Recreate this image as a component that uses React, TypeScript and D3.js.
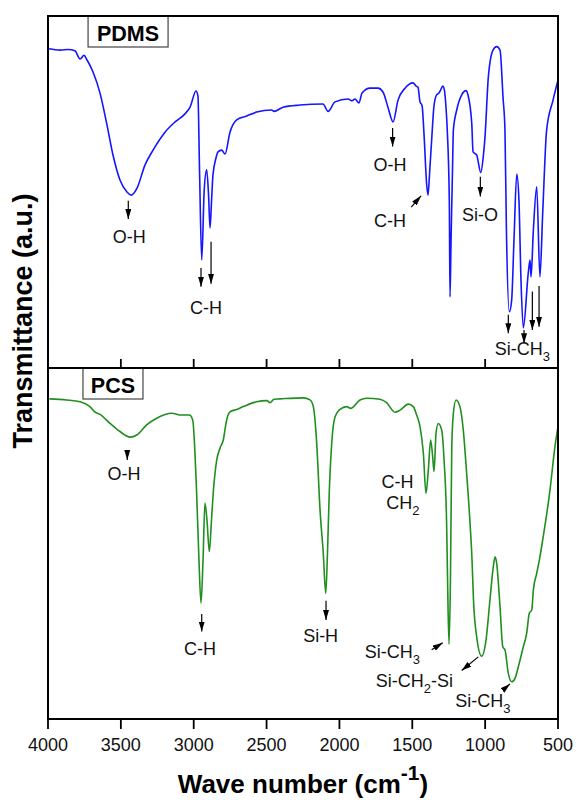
import React, { useMemo } from 'react';
import * as d3 from 'd3';

// wavenumber (cm-1), transmittance (a.u., 0-100 inside each panel)
const xTicks = [4000, 3500, 3000, 2500, 2000, 1500, 1000, 500];

const pdmsSpectrum: [number, number][] = [
  [3993, 90.7], [3918, 90.3], [3863, 90.5], [3815, 90.1], [3780, 87.8], [3753, 88.8], [3732, 87.5],
  [3691, 84.1], [3643, 78.1], [3595, 69.0], [3554, 60.5], [3506, 53.4], [3458, 50.0], [3430, 49.1],
  [3389, 51.1], [3334, 57.7], [3279, 61.9], [3197, 67.0], [3128, 69.9], [3060, 72.2], [3025, 74.1],
  [2984, 78.7], [2971, 77.3], [2960, 56.0], [2945, 30.7], [2928, 50.5], [2911, 56.3], [2898, 49.0],
  [2888, 39.8], [2877, 48.0], [2868, 54.8], [2848, 59.5], [2833, 61.4], [2808, 61.9], [2785, 60.8],
  [2751, 67.0], [2705, 70.5], [2636, 71.6], [2568, 72.7], [2465, 73.3], [2449, 72.9], [2387, 74.1],
  [2271, 74.7], [2113, 75.0], [2078, 72.9], [2030, 75.6], [1941, 76.4], [1914, 75.9], [1893, 76.4],
  [1866, 75.3], [1845, 78.1], [1790, 79.5], [1735, 79.5], [1701, 78.4], [1667, 74.1], [1632, 69.9],
  [1598, 76.1], [1550, 79.5], [1495, 81.0], [1474, 80.1], [1461, 79.8], [1447, 75.6], [1433, 74.6],
  [1420, 66.8], [1401, 52.0], [1392, 49.1], [1380, 56.3], [1367, 64.8], [1351, 74.5], [1333, 77.6],
  [1317, 78.1], [1305, 79.0], [1291, 80.1], [1280, 79.0], [1269, 74.3], [1260, 67.6], [1246, 47.7],
  [1241, 20.2], [1234, 36.4], [1224, 56.3], [1218, 67.6], [1195, 73.3], [1161, 77.6], [1131, 78.8],
  [1118, 77.6], [1092, 69.6], [1083, 61.4], [1058, 60.5], [1030, 55.5], [1013, 60.0], [1001, 65.6],
  [978, 82.7], [946, 90.3], [921, 91.3], [898, 90.3], [877, 76.7], [864, 67.6], [854, 39.2],
  [834, 16.0], [818, 19.3], [802, 36.4], [783, 55.1], [768, 47.7], [754, 25.0], [738, 11.4],
  [704, 27.0], [692, 30.7], [685, 25.9], [669, 39.2], [646, 51.5], [624, 25.9], [605, 44.0],
  [578, 67.6], [534, 76.1], [500, 81.8],
];

const pcsSpectrum: [number, number][] = [
  [3991, 91.2], [3872, 90.9], [3780, 90.4], [3712, 89.0], [3677, 87.4], [3643, 86.8], [3574, 84.2],
  [3506, 81.9], [3437, 80.3], [3391, 80.9], [3323, 83.8], [3254, 85.7], [3151, 87.1], [3082, 86.6],
  [3030, 86.6], [3007, 85.2], [2980, 64.4], [2964, 45.3], [2950, 33.0], [2936, 45.3], [2923, 61.5],
  [2909, 56.7], [2893, 47.7], [2878, 56.7], [2866, 64.4], [2842, 73.8], [2820, 77.1], [2797, 79.5],
  [2774, 85.2], [2751, 87.5], [2705, 88.2], [2660, 89.0], [2568, 90.4], [2499, 90.7], [2476, 90.1],
  [2449, 91.1], [2408, 91.2], [2248, 91.5], [2202, 90.9], [2179, 89.0], [2156, 78.6], [2133, 59.5],
  [2111, 47.3], [2094, 35.8], [2082, 47.3], [2070, 64.3], [2053, 78.5], [2030, 86.1], [1996, 88.2],
  [1950, 89.0], [1923, 88.5], [1859, 90.9], [1813, 91.4], [1722, 91.1], [1676, 90.1], [1619, 87.4],
  [1584, 88.0], [1527, 89.7], [1493, 89.0], [1470, 86.6], [1447, 83.3], [1424, 75.7], [1406, 64.3],
  [1390, 70.9], [1374, 79.5], [1360, 74.7], [1351, 70.5], [1337, 81.4], [1322, 84.2], [1298, 82.3],
  [1282, 73.8], [1264, 54.8], [1258, 40.0], [1248, 21.3], [1238, 40.0], [1229, 77.6], [1218, 87.1],
  [1200, 90.9], [1173, 89.0], [1150, 82.3], [1127, 70.0], [1104, 56.0], [1090, 45.3], [1080, 33.9],
  [1058, 23.4], [1024, 17.9], [994, 22.5], [967, 33.9], [944, 43.4], [932, 46.2], [921, 44.4],
  [898, 32.0], [879, 20.6], [864, 19.7], [841, 13.0], [818, 10.6], [795, 11.6], [766, 15.9],
  [738, 20.6], [715, 24.4], [697, 30.1], [680, 31.1], [669, 36.8], [646, 41.5], [624, 46.2],
  [605, 51.0], [555, 65.2], [521, 77.6], [500, 83.2],
];

// arrows: tail [wn, T] -> tip [wn, T]
const pdmsArrows: [number, number, number, number][] = [
  [3449, 47.5, 3449, 42.3],
  [2950, 28.4, 2950, 23.1],
  [2881, 35.9, 2881, 23.9],
  [1635, 68.2, 1635, 62.9],
  [1507, 45.7, 1440, 48.9],
  [1033, 54.3, 1033, 48.7],
  [841, 15.1, 841, 9.9],
  [733, 10.8, 733, 7.0],
  [676, 21.7, 676, 10.8],
  [630, 23.3, 630, 11.7],
];

const pcsArrows: [number, number, number, number][] = [
  [3456, 76.4, 3456, 73.8],
  [2945, 29.9, 2945, 24.9],
  [2092, 33.7, 2092, 28.2],
  [1367, 19.7, 1291, 21.7],
  [1047, 17.7, 1161, 13.8],
  [877, 8.3, 829, 10.0],
];

type Label = { wn: number; t: number; main: string; sub?: string; tail?: string };

const pdmsLabels: Label[] = [
  { wn: 3442, t: 35.5, main: 'O-H' },
  { wn: 2916, t: 15.3, main: 'C-H' },
  { wn: 1653, t: 56.1, main: 'O-H' },
  { wn: 1653, t: 40.1, main: 'C-H' },
  { wn: 1035, t: 41.8, main: 'Si-O' },
  { wn: 744, t: 3.7, main: 'Si-CH', sub: '3' },
];

const pcsLabels: Label[] = [
  { wn: 3478, t: 68.1, main: 'O-H' },
  { wn: 2957, t: 18.2, main: 'C-H' },
  { wn: 2129, t: 22.0, main: 'Si-H' },
  { wn: 1601, t: 65.7, main: 'C-H' },
  { wn: 1564, t: 59.8, main: 'CH', sub: '2' },
  { wn: 1636, t: 17.3, main: 'Si-CH', sub: '3' },
  { wn: 1485, t: 9.0, main: 'Si-CH', sub: '2', tail: '-Si' },
  { wn: 1016, t: 3.5, main: 'Si-CH', sub: '3' },
];

// sample name boxes: left edge in wavenumber, width in px
const sampleNames = ['PDMS', 'PCS'];
const nameBoxStart = [3725, 3760];
const nameBoxWidth = [80, 60];

const FONT = "Arial, 'Liberation Sans', Helvetica, sans-serif";

function Panel({ data, color, yScale, x, arrows, labels, name, boxStart, boxWidth }) {
  const line = d3.line<[number, number]>()
    .x((d) => x(d[0]))
    .y((d) => yScale(d[1]))
    .curve(d3.curveMonotoneX);
  const top = yScale(100);
  const bx = x(boxStart);
  return (
    <g>
      <path d={line(data) ?? ''} fill="none" stroke={color} strokeWidth={1.6} />
      {arrows.map((a, i) => (
        <line
          key={`a${i}`}
          x1={x(a[0])}
          y1={yScale(a[1])}
          x2={x(a[2])}
          y2={yScale(a[3])}
          stroke="#000"
          strokeWidth={1.2}
          markerEnd="url(#head)"
        />
      ))}
      {labels.map((l, i) => (
        <text key={`l${i}`} x={x(l.wn)} y={yScale(l.t)} textAnchor="middle" fontSize={18} fontFamily={FONT} fill="#111">
          {l.main}
          {l.sub && <tspan fontSize={13} dy={6}>{l.sub}</tspan>}
          {l.tail && <tspan dy={-6}>{l.tail}</tspan>}
        </text>
      ))}
      <rect x={bx} y={top} width={boxWidth} height={31} fill="#fff" stroke="#444" strokeWidth={1.2} />
      <text x={bx + boxWidth / 2} y={top + 25} textAnchor="middle" fontSize={21.5} fontWeight="bold" fontFamily={FONT}>
        {name}
      </text>
    </g>
  );
}

export default function App() {
  const g = useMemo(() => {
    const left = 48;
    const right = 558;
    const top = 16;
    const mid = 368;
    const bottom = 719;
    const x = d3.scaleLinear().domain([4000, 500]).range([left, right]);
    const yTop = d3.scaleLinear().domain([0, 100]).range([mid, top]);
    const yBot = d3.scaleLinear().domain([0, 100]).range([bottom, mid]);
    return { left, right, top, mid, bottom, x, yTop, yBot };
  }, []);
  const { left, right, top, mid, bottom, x, yTop, yBot } = g;

  return (
    <svg
      width={576}
      height={800}
      viewBox="0 0 576 800"
      style={{ position: 'absolute', left: 0, top: 0, background: '#fff' }}
    >
      <defs>
        <marker id="head" viewBox="0 0 10 6" refX={10} refY={3} markerWidth={10} markerHeight={6} orient="auto" markerUnits="userSpaceOnUse">
          <path d="M0,0 L10,3 L0,6 Z" fill="#000" />
        </marker>
      </defs>
      <rect width={576} height={800} fill="#fff" />

      <Panel data={pdmsSpectrum} color="#1515ff" yScale={yTop} x={x} arrows={pdmsArrows} labels={pdmsLabels}
        name={sampleNames[0]} boxStart={nameBoxStart[0]} boxWidth={nameBoxWidth[0]} />
      <Panel data={pcsSpectrum} color="#1f8f1f" yScale={yBot} x={x} arrows={pcsArrows} labels={pcsLabels}
        name={sampleNames[1]} boxStart={nameBoxStart[1]} boxWidth={nameBoxWidth[1]} />

      {/* frames */}
      <rect x={left} y={top} width={right - left} height={bottom - top} fill="none" stroke="#000" strokeWidth={2} />
      <line x1={left} x2={right} y1={mid} y2={mid} stroke="#000" strokeWidth={2} />

      {/* ticks: inward on the upper panel, outward under the lower */}
      {xTicks.map((t) => (
        <g key={t}>
          <line x1={x(t)} x2={x(t)} y1={mid} y2={mid - 9} stroke="#000" strokeWidth={1.8} />
          <line x1={x(t)} x2={x(t)} y1={bottom} y2={bottom + 10} stroke="#000" strokeWidth={1.8} />
          <text x={x(t)} y={bottom + 32} textAnchor="middle" fontSize={18} fontFamily={FONT} fill="#111">
            {t}
          </text>
        </g>
      ))}

      <text
        transform="translate(32, 321) rotate(-90)"
        textAnchor="middle"
        fontSize={27}
        fontWeight="bold"
        fontFamily={FONT}
      >
        Transmittance (a.u.)
      </text>
      <text x={(left + right) / 2} y={793} textAnchor="middle" fontSize={26} fontWeight="bold" fontFamily={FONT}>
        Wave number (cm
        <tspan fontSize={21} dy={-13}>-1</tspan>
        <tspan dy={13}>)</tspan>
      </text>
    </svg>
  );
}
